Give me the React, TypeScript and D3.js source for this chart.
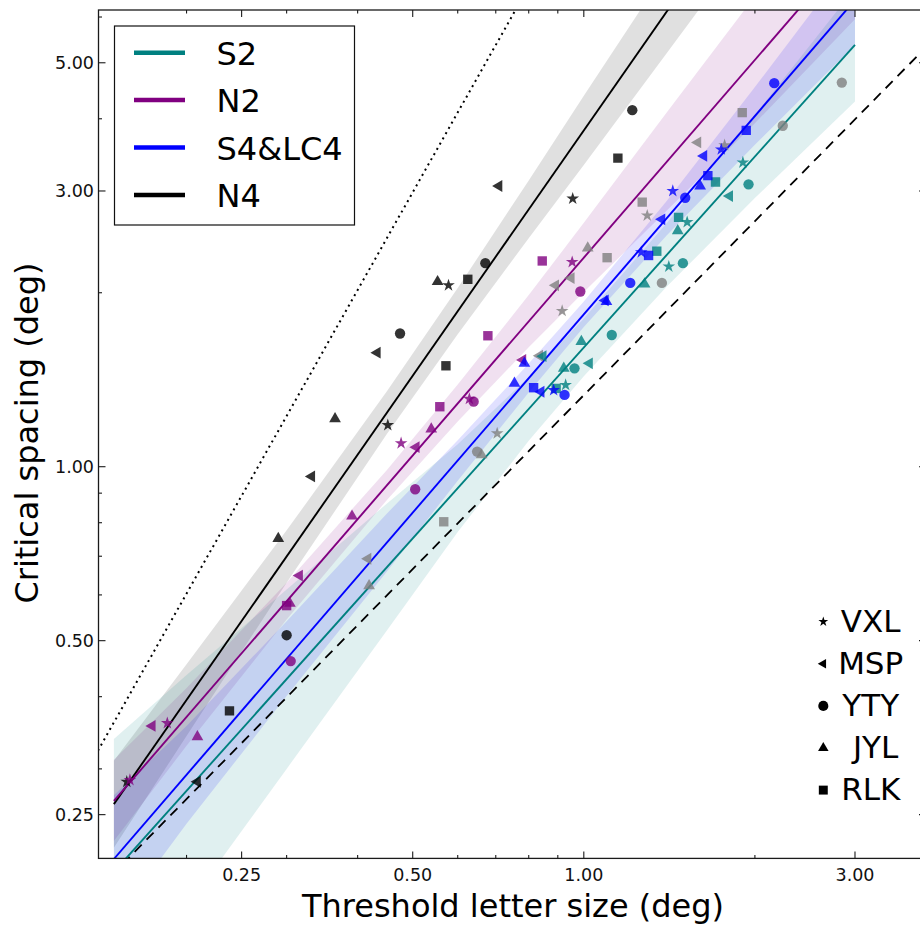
import React from 'react';
import * as d3 from 'd3';

// ---------- data ----------
const X_DOMAIN = [0.14, 4.0];
const Y_DOMAIN = [0.21, 6.17];
const X_TICKS = [0.25, 0.5, 1, 3];
const Y_TICKS = [0.25, 0.5, 1, 3, 5];
const X_MINOR = [0.2, 0.3, 0.4, 0.6, 0.7, 0.8, 0.9, 2];
const Y_MINOR = [0.3, 0.4, 0.6, 0.7, 0.8, 0.9, 2, 4, 6];

const CONDITIONS = ['S2', 'N2', 'S4&LC4', 'N4'];
const CONDITION_COLORS = ['#008080', '#800080', '#0000ff', '#000000'];
const OBSERVERS = ['VXL', 'MSP', 'YTY', 'JYL', 'RLK'];
const OBSERVER_LABELS = ['VXL', 'MSP', 'YTY', ' JYL', 'RLK'];

// regression lines (endpoints, data units)
const FIT_S2 = [[0.149, 0.199], [3.0, 5.37]];
const FIT_N2 = [[0.149, 0.264], [3.0, 8.02]];
const FIT_S4 = [[0.149, 0.2095], [3.0, 6.42]];
const FIT_N4 = [[0.149, 0.2607], [3.0, 17.97]];

// reference lines
const DASHED_REF = [[0.1, 0.133], [4.0, 5.32]];
const DOTTED_REF = [[0.1, 0.18], [1.0, 10.0]];

// confidence bands
const BAND_X = [0.149, 0.2, 0.3, 0.45, 0.6, 0.8, 1.0, 1.4, 2.0, 3.0];
const S2_LO = [0.117, 0.173, 0.300, 0.520, 0.771, 1.109, 1.434, 2.050, 2.916, 4.286];
const S2_HI = [0.338, 0.436, 0.613, 0.863, 1.094, 1.429, 1.805, 2.641, 4.063, 6.730];
const N2_LO = [0.225, 0.329, 0.544, 0.875, 1.197, 1.610, 2.005, 2.775, 3.928, 5.948];
const N2_HI = [0.311, 0.414, 0.630, 0.986, 1.387, 1.982, 2.642, 4.104, 6.519, 10.82];
const S4_LO = [0.163, 0.241, 0.401, 0.658, 0.946, 1.344, 1.745, 2.514, 3.606, 5.365];
const S4_HI = [0.270, 0.356, 0.540, 0.829, 1.111, 1.508, 1.931, 2.886, 4.539, 7.684];
const N4_LO = [0.219, 0.342, 0.630, 1.138, 1.695, 2.486, 3.327, 5.200, 8.344, 14.28];
const N4_HI = [0.310, 0.455, 0.776, 1.349, 2.038, 3.129, 4.385, 7.244, 12.34, 22.62];

// observations: [observer, letter size, critical spacing]
const N4_POINTS: [string, number, number][] = [
  ['JYL', 0.553, 2.09], ['VXL', 0.578, 2.06], ['YTY', 0.475, 1.70], ['MSP', 0.433, 1.575],
  ['RLK', 0.572, 1.495], ['YTY', 0.671, 2.25], ['RLK', 0.625, 2.11], ['JYL', 0.365, 1.21],
  ['VXL', 0.452, 1.18], ['MSP', 0.332, 0.962], ['JYL', 0.290, 0.751], ['YTY', 0.300, 0.511],
  ['RLK', 0.238, 0.378], ['VXL', 0.157, 0.285], ['MSP', 0.209, 0.285], ['YTY', 1.217, 4.14],
  ['RLK', 1.148, 3.42], ['MSP', 0.709, 3.06], ['VXL', 0.956, 2.91],
];
const N2_POINTS: [string, number, number][] = [
  ['RLK', 0.845, 2.27], ['VXL', 0.954, 2.26], ['YTY', 0.986, 2.01], ['RLK', 0.678, 1.685],
  ['RLK', 0.558, 1.27], ['VXL', 0.629, 1.31], ['YTY', 0.640, 1.296], ['JYL', 0.539, 1.162],
  ['VXL', 0.477, 1.098], ['MSP', 0.507, 1.081], ['YTY', 0.505, 0.914], ['JYL', 0.391, 0.821],
  ['MSP', 0.316, 0.648], ['RLK', 0.300, 0.575], ['JYL', 0.304, 0.580], ['YTY', 0.305, 0.461],
  ['MSP', 0.174, 0.356], ['VXL', 0.185, 0.360], ['JYL', 0.209, 0.341], ['VXL', 0.159, 0.287],
  ['MSP', 0.781, 1.53],
];
const S4_POINTS: [string, number, number][] = [
  ['YTY', 2.163, 4.61], ['RLK', 1.931, 3.82], ['VXL', 1.745, 3.54], ['MSP', 1.626, 3.45],
  ['RLK', 1.653, 3.19], ['JYL', 1.602, 3.06], ['VXL', 1.434, 3.00], ['YTY', 1.508, 2.92],
  ['MSP', 1.372, 2.68], ['VXL', 1.262, 2.35], ['RLK', 1.300, 2.32], ['YTY', 1.207, 2.08],
  ['MSP', 1.091, 1.94], ['JYL', 1.096, 1.93], ['JYL', 0.755, 1.394], ['RLK', 0.816, 1.37],
  ['MSP', 0.841, 1.348], ['VXL', 0.885, 1.357], ['YTY', 0.925, 1.331], ['JYL', 0.786, 1.51],
];
const LC4_POINTS: [string, number, number][] = [
  ['YTY', 2.844, 4.62], ['YTY', 2.239, 3.89], ['RLK', 1.90, 4.10], ['VXL', 1.769, 3.60],
  ['MSP', 1.587, 3.64], ['RLK', 1.267, 2.87], ['VXL', 1.293, 2.72], ['JYL', 1.016, 2.39],
  ['RLK', 1.099, 2.30], ['MSP', 0.892, 2.06], ['MSP', 0.950, 2.12], ['VXL', 0.916, 1.86],
  ['YTY', 1.372, 2.08], ['MSP', 0.836, 1.556], ['VXL', 0.704, 1.142], ['YTY', 0.649, 1.062],
  ['JYL', 0.661, 1.048], ['RLK', 0.567, 0.803], ['MSP', 0.417, 0.693], ['JYL', 0.419, 0.622],
];
const S2_POINTS: [string, number, number][] = [
  ['VXL', 1.905, 3.36], ['MSP', 1.805, 2.94], ['YTY', 1.949, 3.08], ['RLK', 1.705, 3.11],
  ['RLK', 1.468, 2.70], ['VXL', 1.520, 2.65], ['JYL', 1.463, 2.56], ['RLK', 1.344, 2.36],
  ['VXL', 1.411, 2.22], ['YTY', 1.494, 2.25], ['JYL', 1.279, 2.07], ['YTY', 1.120, 1.69],
  ['JYL', 0.990, 1.646], ['MSP', 1.023, 1.51], ['JYL', 0.922, 1.48], ['YTY', 0.963, 1.48],
  ['VXL', 0.929, 1.385], ['RLK', 0.894, 1.366], ['MSP', 0.848, 1.553],
];

// ---------- layout / style ----------
const W = 920;
const H = 927;
const PLOT = { left: 98.5, right: 926, top: 10, bottom: 858.4 };
const FONT = '"DejaVu Sans", "Bitstream Vera Sans", sans-serif';

const SYMBOLS: Record<string, { type: d3.SymbolType; size: number; rotate: number }> = {
  VXL: { type: d3.symbolStar, size: 50, rotate: 0 },
  MSP: { type: d3.symbolTriangle, size: 60, rotate: -90 },
  YTY: { type: d3.symbolCircle, size: 84, rotate: 0 },
  JYL: { type: d3.symbolTriangle, size: 60, rotate: 0 },
  RLK: { type: d3.symbolSquare, size: 88, rotate: 0 },
};
const LEGEND_SYMBOL_SIZE: Record<string, number> = { VXL: 30, MSP: 40, YTY: 80, JYL: 48, RLK: 80 };

export default function App() {
  const x = d3.scaleLog().domain(X_DOMAIN).range([PLOT.left, PLOT.right]);
  const y = d3.scaleLog().domain(Y_DOMAIN).range([PLOT.bottom, PLOT.top]);

  const line = d3.line<number[]>().x((d) => x(d[0])).y((d) => y(d[1]));
  const area = d3
    .area<[number, number, number]>()
    .x((d) => x(d[0]))
    .y0((d) => y(d[1]))
    .y1((d) => y(d[2]));

  const groups = [
    { color: '#000000', fit: FIT_N4, lo: N4_LO, hi: N4_HI },
    { color: '#800080', fit: FIT_N2, lo: N2_LO, hi: N2_HI },
    { color: '#008080', fit: FIT_S2, lo: S2_LO, hi: S2_HI },
    { color: '#0000ff', fit: FIT_S4, lo: S4_LO, hi: S4_HI },
  ];
  const markerSets = [
    { color: '#000000', pts: N4_POINTS },
    { color: '#800080', pts: N2_POINTS },
    { color: '#808080', pts: LC4_POINTS },
    { color: '#008080', pts: S2_POINTS },
    { color: '#0000ff', pts: S4_POINTS },
  ];

  const sym = (obs: string, size?: number) =>
    d3.symbol().type(SYMBOLS[obs].type).size(size ?? SYMBOLS[obs].size)() as string;

  const majorLen = 7;
  const minorLen = 3.5;
  const axisColor = '#1a1a1a';

  const ticksX = [
    ...X_TICKS.map((v) => ({ v, len: majorLen })),
    ...X_MINOR.map((v) => ({ v, len: minorLen })),
  ];
  const ticksY = [
    ...Y_TICKS.map((v) => ({ v, len: majorLen })),
    ...Y_MINOR.map((v) => ({ v, len: minorLen })),
  ];

  const legendRowY = (i: number) => 52.7 + i * 47.4;
  const obsRowY = (i: number) => 621.7 + i * 42.1;

  return (
    <svg
      width={W}
      height={H}
      style={{ position: 'absolute', left: 0, top: 0, background: '#fff' }}
      fontFamily={FONT}
    >
      <defs>
        <clipPath id="plotClip">
          <rect x={PLOT.left} y={PLOT.top} width={PLOT.right - PLOT.left} height={PLOT.bottom - PLOT.top} />
        </clipPath>
      </defs>
      <rect x={0} y={0} width={W} height={H} fill="#fff" />

      <g clipPath="url(#plotClip)">
        {groups.map((g, i) => (
          <path
            key={'band' + i}
            d={area(BAND_X.map((bx, j) => [bx, g.lo[j], g.hi[j]] as [number, number, number])) as string}
            fill={g.color}
            fillOpacity={0.12}
            stroke="none"
          />
        ))}
        <path d={line(DOTTED_REF) as string} stroke="#000" strokeWidth={2} strokeDasharray="2,4" fill="none" />
        <path d={line(DASHED_REF) as string} stroke="#000" strokeWidth={1.8} strokeDasharray="10,7" fill="none" />
        {groups.map((g, i) => (
          <path key={'fit' + i} d={line(g.fit) as string} stroke={g.color} strokeWidth={1.9} fill="none" />
        ))}
        {markerSets.map((ms, i) =>
          ms.pts.map((p, j) => (
            <path
              key={'m' + i + '-' + j}
              d={sym(p[0])}
              transform={`translate(${x(p[1])},${y(p[2])}) rotate(${SYMBOLS[p[0]].rotate})`}
              fill={ms.color}
              fillOpacity={0.8}
            />
          ))
        )}
      </g>

      {/* frame */}
      <rect
        x={PLOT.left}
        y={PLOT.top}
        width={PLOT.right - PLOT.left}
        height={PLOT.bottom - PLOT.top}
        fill="none"
        stroke={axisColor}
        strokeWidth={1.3}
      />
      {ticksX.map((t, i) => (
        <g key={'tx' + i} stroke={axisColor} strokeWidth={1.1}>
          <line x1={x(t.v)} x2={x(t.v)} y1={PLOT.bottom} y2={PLOT.bottom - t.len} />
          <line x1={x(t.v)} x2={x(t.v)} y1={PLOT.top} y2={PLOT.top + t.len} />
        </g>
      ))}
      {ticksY.map((t, i) => (
        <g key={'ty' + i} stroke={axisColor} strokeWidth={1.1}>
          <line x1={PLOT.left} x2={PLOT.left + t.len} y1={y(t.v)} y2={y(t.v)} />
          <line x1={PLOT.right} x2={PLOT.right - t.len} y1={y(t.v)} y2={y(t.v)} />
        </g>
      ))}
      {X_TICKS.map((v) => (
        <text key={'xl' + v} x={x(v)} y={880.5} textAnchor="middle" fontSize={17.5} fill="#111">
          {v.toFixed(2)}
        </text>
      ))}
      {Y_TICKS.map((v) => (
        <text key={'yl' + v} x={94} y={y(v) + 6.3} textAnchor="end" fontSize={17.5} fill="#111">
          {v.toFixed(2)}
        </text>
      ))}

      {/* axis titles */}
      <text x={513} y={917} textAnchor="middle" fontSize={32} fill="#000">
        Threshold letter size (deg)
      </text>
      <text transform="translate(37.5,433) rotate(-90)" textAnchor="middle" fontSize={32} fill="#000">
        Critical spacing (deg)
      </text>

      {/* condition legend */}
      <rect x={114.5} y={26} width={240} height={199} fill="#fff" stroke="#111" strokeWidth={1.2} />
      {CONDITIONS.map((c, i) => (
        <g key={'lg' + c}>
          <line x1={134} x2={185} y1={legendRowY(i)} y2={legendRowY(i)} stroke={CONDITION_COLORS[i]} strokeWidth={4.5} />
          <text x={216.5} y={legendRowY(i) + 12} fontSize={32} fill="#000">
            {c}
          </text>
        </g>
      ))}

      {/* observer legend */}
      {OBSERVERS.map((o, i) => (
        <g key={'ol' + o}>
          <path
            d={sym(o, LEGEND_SYMBOL_SIZE[o])}
            transform={`translate(823.3,${obsRowY(i)}) rotate(${SYMBOLS[o].rotate})`}
            fill="#000"
          />
          <text x={870.7} y={obsRowY(i) + 10} fontSize={31} textAnchor="middle" fill="#000" style={{ whiteSpace: 'pre' }}>
            {OBSERVER_LABELS[i]}
          </text>
        </g>
      ))}
    </svg>
  );
}
